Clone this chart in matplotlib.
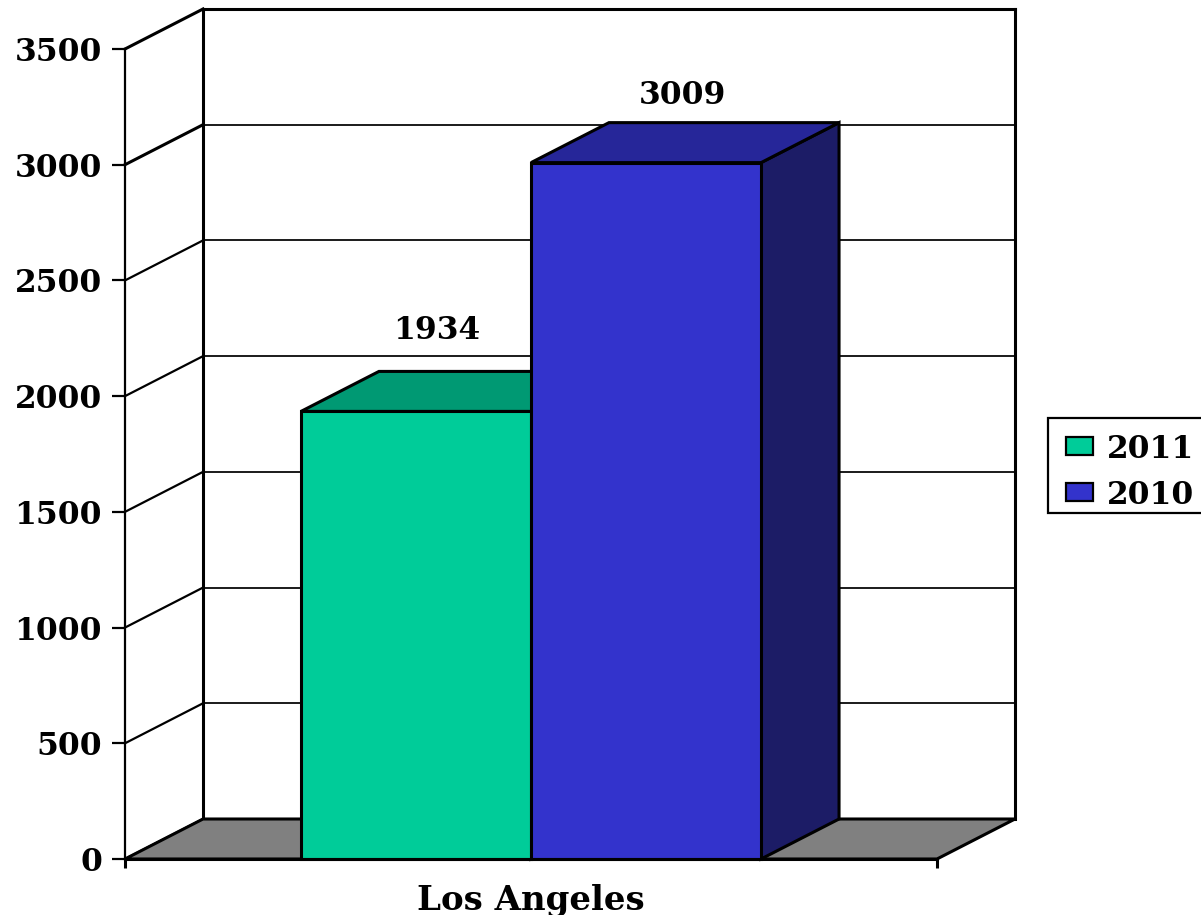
import matplotlib
matplotlib.use("Agg")
import matplotlib.pyplot as plt
from matplotlib.patches import Polygon, Rectangle
from matplotlib.lines import Line2D

# ---------------- data ----------------
category = "Los Angeles"
series_names = ["2011", "2010"]
series_values = [1934, 3009]
yticks = [0, 500, 1000, 1500, 2000, 2500, 3000, 3500]

# ---------------- style ----------------
front_colors = ["#00CC99", "#3333CC"]
top_colors = ["#009973", "#262699"]
side_colors = ["#006650", "#1C1C66"]
floor_color = "#808080"
FONT = dict(family="DejaVu Serif", weight="bold", size=22.5)
FONT_CAT = dict(family="DejaVu Serif", weight="bold", size=24.5)

W, H = 1201, 915
fig = plt.figure(figsize=(W / 100, H / 100), dpi=100)
# plot (front) area in pixels
x0p, x1p, y0p, y1p = 125, 937, 859, 49
ax = fig.add_axes([x0p / W, 1 - y0p / H, (x1p - x0p) / W, (y0p - y1p) / H])
ax.set_xlim(0, 1)
ax.set_ylim(0, 3500)
ax.patch.set_visible(False)

# depth offset (pixels -> data units)
DXp, DYp = 78, 40
DX = DXp / (x1p - x0p)
DY = DYp / (y0p - y1p) * 3500

LW_THICK = 2.2
LW_MID = 1.6
LW_THIN = 1.4

# back wall gridlines
for v in yticks[1:-1]:
    ax.add_line(Line2D([DX, 1 + DX], [v + DY, v + DY], color="#1a1a1a",
                       lw=LW_THIN, clip_on=False, zorder=1))
# wall edges
ax.add_line(Line2D([DX, 1 + DX], [3500 + DY, 3500 + DY], color="black",
                   lw=LW_THICK, clip_on=False, zorder=2))
ax.add_line(Line2D([DX, DX], [DY, 3500 + DY], color="black",
                   lw=LW_THICK, clip_on=False, zorder=2))
ax.add_line(Line2D([1 + DX, 1 + DX], [DY, 3500 + DY], color="black",
                   lw=LW_THICK, clip_on=False, zorder=2))
# side wall diagonals
for v in yticks:
    ax.add_line(Line2D([0, DX], [v, v + DY], color="black",
                       lw=LW_THICK if v in (3000, 3500) else LW_MID,
                       clip_on=False, zorder=2))
# floor
ax.add_patch(Polygon([(0, 0), (DX, DY), (1 + DX, DY), (1, 0)], closed=True,
                     facecolor=floor_color, edgecolor="black", lw=LW_THICK,
                     clip_on=False, zorder=3))

# bars
bar_w = 0.2833
n = len(series_values)
starts = [0.5 - bar_w * n / 2 + i * bar_w for i in range(n)]
for i, (xs, v) in enumerate(zip(starts, series_values)):
    xe = xs + bar_w
    z = 4 + i
    # side
    ax.add_patch(Polygon([(xe, 0), (xe + DX, DY), (xe + DX, v + DY), (xe, v)],
                         closed=True, facecolor=side_colors[i], edgecolor="black",
                         lw=LW_THICK, clip_on=False, zorder=z, joinstyle="miter"))
    # top
    ax.add_patch(Polygon([(xs, v), (xs + DX, v + DY), (xe + DX, v + DY), (xe, v)],
                         closed=True, facecolor=top_colors[i], edgecolor="black",
                         lw=LW_THICK, clip_on=False, zorder=z, joinstyle="miter"))
    # front
    ax.add_patch(Rectangle((xs, 0), bar_w, v, facecolor=front_colors[i],
                           edgecolor="black", lw=LW_THICK, clip_on=False,
                           zorder=z + 0.5, joinstyle="miter"))

# value labels
label_offsets_px = [(21, 84), (36, 71)]
for i, (xs, v) in enumerate(zip(starts, series_values)):
    ox, oy = label_offsets_px[i]
    ax.annotate(f"{v}", xy=(xs + bar_w / 2, v), xytext=(ox * 0.72, oy * 0.72),
                textcoords="offset points", ha="center", va="center_baseline",
                zorder=10, **FONT)

# axes spines / ticks
for s in ("top", "right"):
    ax.spines[s].set_visible(False)
ax.spines["left"].set_linewidth(LW_MID)
ax.spines["bottom"].set_linewidth(LW_THICK)
ax.spines["left"].set_zorder(9)
ax.spines["bottom"].set_zorder(9)
ax.set_yticks(yticks)
ax.set_yticklabels([str(t) for t in yticks], fontdict=FONT)
ax.tick_params(axis="y", direction="out", length=9.5, width=LW_MID, pad=7)
ax.set_xticks([0.5])
ax.set_xticklabels([category], fontdict=FONT_CAT)
ax.tick_params(axis="x", which="major", length=0, pad=18)
ax.set_xticks([0, 1], minor=True)
ax.tick_params(axis="x", which="minor", direction="out", length=6.5, width=LW_THICK)

# legend (manual, figure pixels)
def fx(px):
    return px / W

def fy(py):
    return 1 - py / H

fig.add_artist(Rectangle((fx(1048), fy(513)), fx(1215) - fx(1048), fy(418) - fy(513),
                         transform=fig.transFigure, facecolor="white",
                         edgecolor="black", lw=1.6))
leg_rows = [446, 492]
for i, name in enumerate(series_names):
    yc = leg_rows[i]
    fig.add_artist(Rectangle((fx(1066), fy(yc + 9)), fx(1093) - fx(1066), fy(yc - 9) - fy(yc + 9),
                             transform=fig.transFigure, facecolor=front_colors[i],
                             edgecolor="black", lw=1.6))
    fig.text(fx(1107), fy(yc), name, ha="left", va="center_baseline", **FONT)

fig.savefig("out.png", dpi=100)
